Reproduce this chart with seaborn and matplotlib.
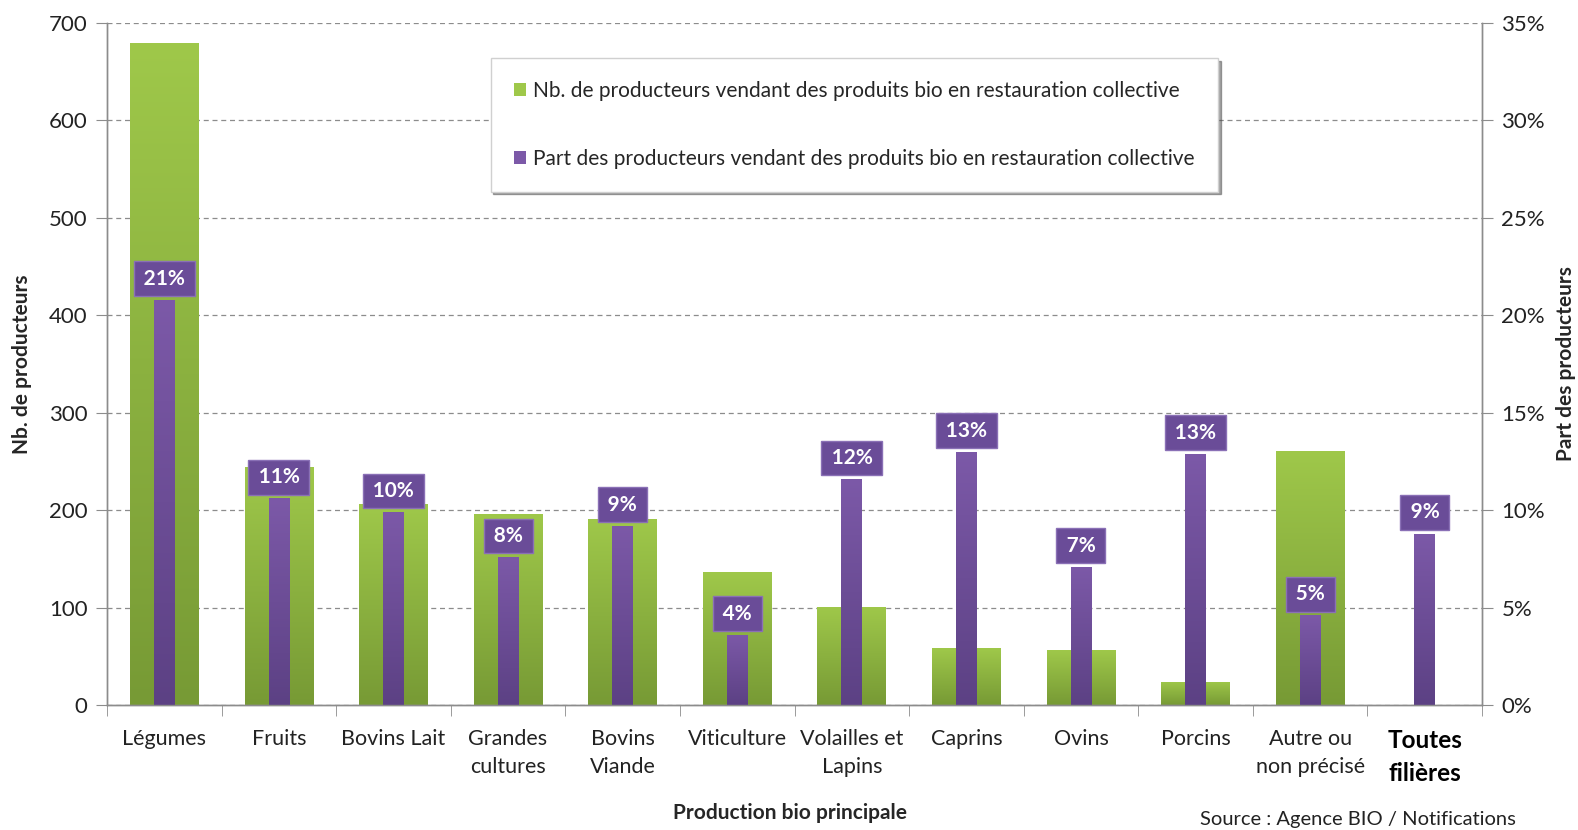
import matplotlib.pyplot as plt
import numpy as np
import seaborn as sns
from matplotlib.colors import LinearSegmentedColormap
from matplotlib.patches import Patch

categories = ["Légumes", "Fruits", "Bovins Lait", "Grandes\ncultures", "Bovins\nViande",
              "Viticulture", "Volailles et\nLapins", "Caprins", "Ovins", "Porcins",
              "Autre ou\nnon précisé", "Toutes\nfilières"]
nb_producteurs = [679, 244, 206, 196, 191, 136, 101, 58, 56, 24, 261, 0]
part_producteurs = [20.8, 10.6, 9.9, 7.6, 9.2, 3.6, 11.6, 13.0, 7.1, 12.9, 4.6, 8.8]

GREEN_TOP, GREEN_BOT = "#9fc84a", "#779a35"
PURPLE_TOP, PURPLE_BOT = "#7c59a8", "#5c4184"
GREY = "#8c8c8c"

sns.set_style("white")
plt.rcParams["font.family"] = ["Lato", "DejaVu Sans"]


def gradient_fill(ax, patches, top, bottom):
    # replace flat bar colour by a vertical gradient clipped to the bar
    cmap = LinearSegmentedColormap.from_list("g", [bottom, top])
    grad = np.linspace(0, 1, 256).reshape(-1, 1)
    for p in patches:
        x, y = p.get_x(), p.get_y()
        w, h = p.get_width(), p.get_height()
        if h <= 0:
            continue
        im = ax.imshow(grad, cmap=cmap, origin="lower", aspect="auto",
                       extent=[x, x + w, y, y + h], zorder=p.get_zorder())
        im.set_clip_path(p)
        p.set_facecolor("none")


fig, ax = plt.subplots(figsize=(15.78, 8.30), dpi=100)
fig.subplots_adjust(left=107 / 1578, right=1482 / 1578, top=1 - 23 / 830, bottom=1 - 705 / 830)

sns.barplot(x=categories, y=nb_producteurs, color=GREEN_TOP, width=0.6, ax=ax,
            edgecolor="none", zorder=2)
ax2 = ax.twinx()
sns.barplot(x=categories, y=part_producteurs, color=PURPLE_TOP, width=0.18, ax=ax2,
            edgecolor="none", zorder=2)

gradient_fill(ax, list(ax.patches), GREEN_TOP, GREEN_BOT)
gradient_fill(ax2, list(ax2.patches), PURPLE_TOP, PURPLE_BOT)

ax.set_xlim(-0.5, len(categories) - 0.5)
ax2.set_xlim(-0.5, len(categories) - 0.5)
ax.set_ylim(0, 700)
ax2.set_ylim(0, 35)
ax.set_yticks(range(0, 701, 100))
ax2.set_yticks(range(0, 36, 5))
ax2.set_yticklabels([f"{v}%" for v in range(0, 36, 5)])

ax.set_axisbelow(True)
ax.yaxis.grid(True, linestyle=(0, (4, 3)), color=GREY, linewidth=0.9)

for a in (ax, ax2):
    for side in ("left", "right", "bottom"):
        a.spines[side].set_color(GREY)
        a.spines[side].set_linewidth(1.0)
    a.spines["top"].set_visible(False)

ax.tick_params(axis="y", direction="out", length=8, color=GREY, labelsize=16, pad=6,
               labelcolor="#222222", left=True)
ax2.tick_params(axis="y", direction="out", length=8, color=GREY, labelsize=16, pad=6,
                labelcolor="#222222", right=True)
ax.set_xticks(np.arange(-0.5, len(categories), 1.0), minor=True)
ax.tick_params(axis="x", which="minor", direction="out", length=8, color=GREY, bottom=True)
ax.tick_params(axis="x", which="major", length=0, labelsize=15.5, pad=17, labelcolor="#222222")
ax.set_xticks(range(len(categories)))
ax.set_xticklabels(categories, linespacing=1.55)
for t in ax.get_xticklabels():
    t.set_multialignment("center")
last = ax.get_xticklabels()[-1]
last.set_fontweight("bold")
last.set_fontsize(17.5)
last.set_color("black")
ax2.tick_params(axis="x", length=0, labelbottom=False)

ax.set_xlabel("")
ax2.set_xlabel("")
ax.set_ylabel("Nb. de producteurs", fontsize=15, fontweight="bold", labelpad=12)
ax2.set_ylabel("Part des producteurs", fontsize=15, fontweight="bold", labelpad=8)

# value boxes above the purple bars
for i, v in enumerate(part_producteurs):
    ax2.annotate(f"\u2009{v:.0f}%\u2009", (i, v), xytext=(0, 8), textcoords="offset points",
                 ha="center", va="bottom", color="white", fontsize=15, fontweight="bold",
                 zorder=5,
                 bbox=dict(boxstyle="square,pad=0.35", fc="#6a4c98", ec="#8a70b6", lw=1))

handles = [Patch(facecolor=GREEN_TOP, edgecolor="none"),
           Patch(facecolor=PURPLE_TOP, edgecolor="none")]
labels = ["Nb. de producteurs vendant des produits bio en restauration collective",
          "Part des producteurs vendant des produits bio en restauration collective"]
leg = ax.legend(handles, labels, loc="upper left", bbox_to_anchor=(0.279, 0.949),
                fontsize=15, frameon=True, shadow=True, fancybox=False,
                handlelength=0.6, handleheight=0.6, handletextpad=0.35,
                labelspacing=2.3, borderpad=1.1, borderaxespad=0)
leg.get_frame().set_edgecolor("#d0d0d0")
leg.set_zorder(6)

fig.text(790 / 1578, 1 - 813 / 830, "Production bio principale", ha="center", va="center",
         fontsize=15, fontweight="bold")
fig.text(1200 / 1578, 1 - 811 / 830, "Source : Agence BIO / Notifications", ha="left",
         va="top", fontsize=14.5, color="#222222")

plt.savefig("out.png", dpi=100)
